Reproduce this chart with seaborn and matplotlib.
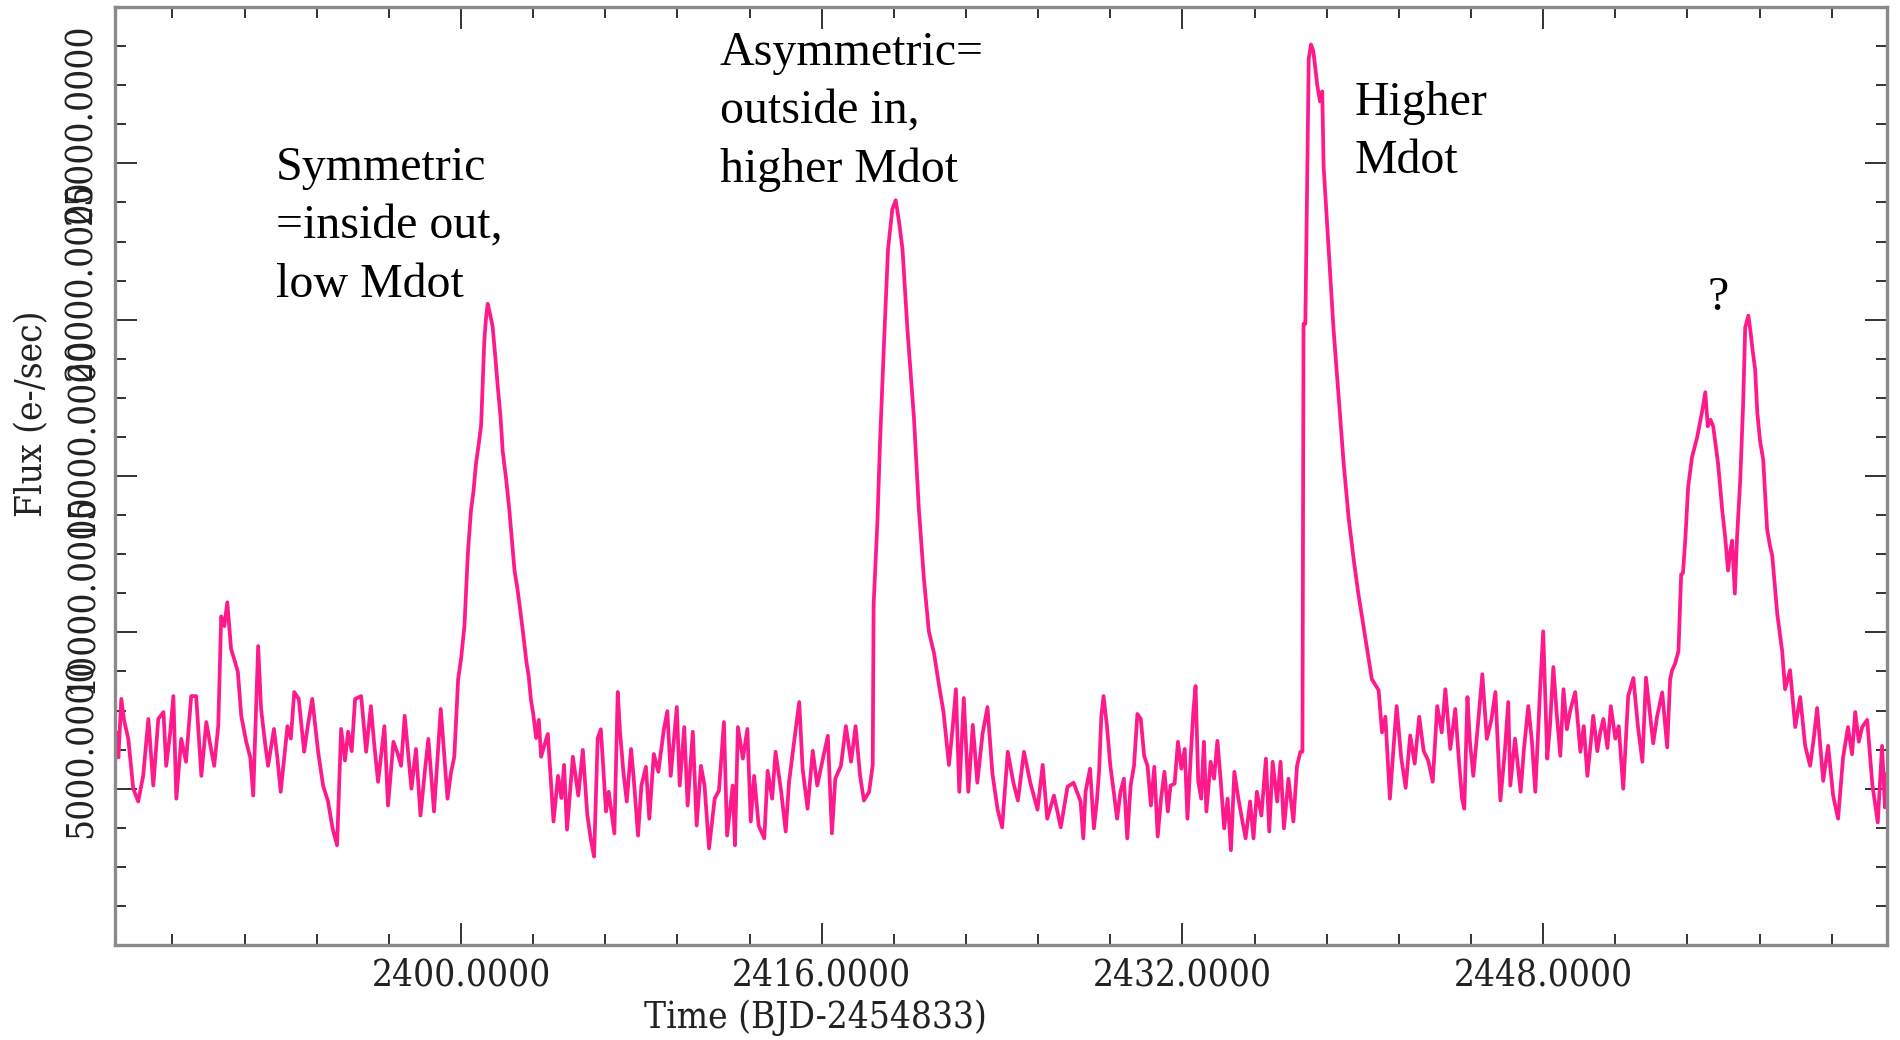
import matplotlib
matplotlib.use("Agg")
import matplotlib.pyplot as plt
import matplotlib.transforms as mtransforms
from matplotlib.ticker import MultipleLocator, FixedLocator, FormatStrFormatter
from matplotlib.font_manager import FontProperties
import pandas as pd
import seaborn as sns

# ---------------- data: (time BJD-2454833, flux e-/sec) ----------------
quiescence_1 = [
    (2384.72, 6800), (2384.80, 6000), (2384.93, 7870), (2385.05, 7200), (2385.24, 6590),
    (2385.46, 5000), (2385.68, 4590), (2385.90, 5410), (2386.13, 7230), (2386.35, 5100),
    (2386.57, 7230), (2386.80, 7450), (2386.92, 5730), (2387.10, 6800), (2387.24, 7960),
    (2387.37, 4680), (2387.59, 6590), (2387.80, 5860), (2388.03, 7960), (2388.25, 7960),
    (2388.48, 5410), (2388.70, 7130), (2388.90, 6300), (2389.05, 5730), (2389.23, 7000),
    (2389.36, 10510), (2389.50, 10200), (2389.63, 10960), (2389.80, 9460), (2389.94, 9140),
    (2390.10, 8730), (2390.25, 7330), (2390.47, 6500), (2390.65, 6000), (2390.78, 4780),
    (2391.00, 9560), (2391.13, 7550), (2391.30, 6500), (2391.44, 5730), (2391.70, 6910),
    (2391.85, 6000), (2392.00, 4900), (2392.30, 7000), (2392.45, 6600), (2392.60, 8090),
    (2392.80, 7870), (2393.04, 6180), (2393.20, 7000), (2393.40, 7870), (2393.66, 6180),
    (2393.88, 5100), (2394.10, 4590), (2394.30, 3730), (2394.50, 3190), (2394.68, 6910),
    (2394.85, 5900), (2394.99, 6820), (2395.15, 6200), (2395.30, 7870), (2395.57, 7960),
    (2395.79, 6180), (2396.00, 7640), (2396.15, 6400), (2396.32, 5220), (2396.60, 7000),
    (2396.76, 4460), (2397.00, 6500), (2397.20, 6100), (2397.34, 5730), (2397.50, 7330),
    (2397.80, 5000), (2398.00, 6270), (2398.20, 4140), (2398.40, 5600), (2398.55, 6590),
    (2398.80, 4270), (2399.10, 7550), (2399.25, 6100), (2399.40, 4680), (2399.55, 5500),
    (2399.70, 6020),
]

outburst_symmetric = [
    (2399.87, 8500), (2400.00, 9150), (2400.15, 10200), (2400.30, 12500), (2400.44, 13900),
    (2400.55, 14500), (2400.66, 15380), (2400.78, 16000), (2400.89, 16630), (2401.03, 19300),
    (2401.10, 20000), (2401.18, 20510), (2401.28, 20200), (2401.40, 19780), (2401.52, 18800),
    (2401.63, 17840), (2401.75, 16900), (2401.85, 15770), (2402.00, 14900), (2402.14, 13920),
    (2402.25, 13000), (2402.37, 11980), (2402.50, 11400), (2402.66, 10510), (2402.78, 9800),
    (2402.90, 9050), (2403.00, 8600), (2403.10, 7840), (2403.20, 7400), (2403.33, 6620),
    (2403.45, 7200), (2403.55, 6020), (2403.70, 6400), (2403.85, 6750), (2404.10, 3950),
    (2404.30, 5410), (2404.45, 4700), (2404.57, 5760), (2404.70, 3690), (2404.96, 6020),
    (2405.20, 4780), (2405.40, 6240), (2405.60, 4170), (2405.77, 3310), (2405.90, 2830),
    (2406.06, 6620), (2406.20, 6900), (2406.43, 4270), (2406.55, 4900), (2406.80, 3570),
    (2406.95, 8090), (2407.05, 6820), (2407.20, 5540), (2407.35, 4590), (2407.54, 6270),
    (2407.65, 5410), (2407.85, 3500), (2408.00, 5100), (2408.20, 5700), (2408.35, 4040),
    (2408.55, 6110), (2408.75, 5540), (2409.00, 6910), (2409.15, 7480), (2409.30, 5410),
    (2409.57, 7610), (2409.70, 5100), (2409.90, 6970), (2410.05, 4460), (2410.28, 6820),
    (2410.45, 3820), (2410.64, 5730), (2410.80, 5100), (2411.00, 3090), (2411.25, 4680),
    (2411.44, 4940), (2411.66, 7130), (2411.80, 3500), (2412.05, 5100), (2412.15, 3190),
    (2412.28, 6970), (2412.50, 5960), (2412.70, 6910), (2412.85, 3950), (2413.00, 5410),
    (2413.20, 3820), (2413.45, 3410), (2413.60, 5570), (2413.80, 4680), (2413.95, 6180),
    (2414.20, 4900), (2414.40, 3630), (2414.55, 5220), (2414.75, 6370), (2415.00, 7770),
    (2415.15, 5640), (2415.37, 4360), (2415.60, 6210), (2415.80, 5100), (2416.05, 5960),
    (2416.27, 6690), (2416.45, 3570), (2416.60, 5320), (2416.85, 5730), (2417.07, 7000),
    (2417.30, 5860), (2417.50, 7000), (2417.70, 5410), (2417.87, 4620), (2418.10, 4900),
    (2418.26, 5760),
]

outburst_asymmetric = [
    (2418.30, 10890), (2418.47, 13570), (2418.58, 15990), (2418.77, 19430), (2418.94, 22260),
    (2419.13, 23540), (2419.28, 23820), (2419.43, 23120), (2419.58, 22260), (2419.80, 19680),
    (2420.09, 16850), (2420.30, 14010), (2420.53, 11720), (2420.75, 10030), (2420.98, 9330),
    (2421.20, 8310), (2421.40, 7450), (2421.64, 5760), (2421.80, 6900), (2421.95, 8180),
    (2422.10, 4900), (2422.30, 7900), (2422.50, 4900), (2422.70, 7040), (2422.90, 5190),
    (2423.13, 6750), (2423.35, 7610), (2423.57, 5480), (2423.80, 4330), (2424.00, 3760),
    (2424.25, 6180), (2424.50, 5190), (2424.70, 4620), (2424.97, 6180), (2425.25, 5190),
    (2425.57, 4330), (2425.80, 5760), (2426.00, 4040), (2426.30, 4780), (2426.60, 3760),
    (2426.90, 5060), (2427.17, 5190), (2427.48, 4590), (2427.60, 3410), (2427.70, 4900),
    (2427.90, 5640), (2428.07, 3730), (2428.20, 4590), (2428.30, 5540), (2428.40, 7330),
    (2428.50, 7960), (2428.65, 7000), (2428.80, 5730), (2428.95, 4900), (2429.10, 4040),
    (2429.25, 4900), (2429.40, 5320), (2429.55, 3410), (2429.70, 5100), (2429.85, 5730),
    (2430.00, 7390), (2430.15, 7230), (2430.30, 6050), (2430.45, 5730), (2430.60, 4460),
    (2430.75, 5700), (2430.90, 3470), (2431.05, 4680), (2431.20, 5540), (2431.35, 4270),
    (2431.47, 5100), (2431.65, 5160), (2431.80, 6500), (2431.95, 5640), (2432.10, 6270),
    (2432.22, 4040), (2432.36, 5960), (2432.48, 7450), (2432.58, 8280), (2432.70, 5220),
    (2432.83, 4680), (2432.95, 6500), (2433.06, 4270), (2433.25, 5860), (2433.40, 5320),
    (2433.55, 6530), (2433.70, 5220), (2433.85, 3730), (2434.00, 4680), (2434.15, 3030),
    (2434.30, 5540), (2434.48, 4680), (2434.66, 3950), (2434.80, 3410), (2435.00, 4590),
    (2435.15, 3410), (2435.30, 4900), (2435.50, 4140), (2435.70, 5960), (2435.85, 3630),
    (2436.00, 5860), (2436.20, 4590), (2436.35, 5860), (2436.50, 3730), (2436.70, 5320),
    (2436.92, 3950), (2437.08, 5730), (2437.23, 6180), (2437.32, 6180),
]

outburst_high_mdot = [
    (2437.37, 19870), (2437.45, 19870), (2437.60, 28350), (2437.70, 28800), (2437.80, 28600),
    (2437.90, 28000), (2437.98, 27490), (2438.10, 26980), (2438.20, 27300), (2438.26, 24900),
    (2438.48, 22300), (2438.70, 19700), (2438.93, 17500), (2439.15, 15400), (2439.37, 13660),
    (2439.60, 12300), (2439.80, 11240), (2440.10, 9870), (2440.40, 8500), (2440.70, 8150),
    (2440.85, 6800), (2441.00, 7300), (2441.20, 4680), (2441.35, 6200), (2441.50, 7640),
    (2441.70, 6000), (2441.90, 5030), (2442.10, 6700), (2442.30, 5800), (2442.50, 7300),
    (2442.70, 6200), (2442.90, 5900), (2443.10, 5220), (2443.30, 7640), (2443.50, 6800),
    (2443.66, 8180), (2443.88, 6270), (2444.10, 7550), (2444.25, 6000), (2444.40, 4680),
    (2444.50, 4360), (2444.64, 7930), (2444.75, 6500), (2444.90, 5410), (2445.10, 7000),
    (2445.30, 8660), (2445.50, 6590), (2445.70, 7200), (2445.88, 8090), (2446.10, 4620),
    (2446.30, 6200), (2446.45, 7770), (2446.54, 5100), (2446.75, 6600), (2447.00, 4900),
    (2447.15, 6300), (2447.34, 7640), (2447.50, 6500), (2447.65, 4900), (2447.87, 8280),
    (2448.00, 10030), (2448.18, 5960), (2448.30, 7000), (2448.45, 8890), (2448.60, 7400),
    (2448.76, 6050), (2448.90, 8180), (2449.05, 6900), (2449.20, 7500), (2449.42, 8090),
    (2449.65, 6180), (2449.80, 7000), (2449.96, 5410), (2450.10, 6400), (2450.22, 7330),
    (2450.40, 6200), (2450.53, 6800), (2450.67, 7230), (2450.85, 6300), (2451.00, 7640),
    (2451.20, 6600), (2451.35, 7000), (2451.55, 5000), (2451.77, 7960), (2452.00, 8540),
    (2452.20, 7000), (2452.40, 5860), (2452.56, 8550), (2452.88, 6450), (2453.05, 7300),
    (2453.28, 8080), (2453.50, 6320), (2453.63, 8500),
]

outburst_double = [
    (2453.72, 8790), (2453.85, 9000), (2454.00, 9400), (2454.12, 11850), (2454.20, 11900),
    (2454.30, 12930), (2454.43, 14650), (2454.60, 15600), (2454.83, 16240), (2455.05, 17070),
    (2455.19, 17680), (2455.30, 16590), (2455.42, 16800), (2455.54, 16590), (2455.76, 15380),
    (2455.94, 13920), (2456.07, 13060), (2456.20, 11980), (2456.30, 12600), (2456.38, 12930),
    (2456.50, 11240), (2456.60, 13060), (2456.74, 14870), (2456.87, 17330), (2456.96, 19750),
    (2457.10, 20130), (2457.20, 19600), (2457.27, 19140), (2457.40, 18410), (2457.50, 17000),
    (2457.62, 16120), (2457.76, 15510), (2457.93, 13310), (2458.05, 12800), (2458.16, 12450),
    (2458.38, 10600), (2458.60, 9400), (2458.73, 8180), (2458.95, 8790), (2459.18, 6970),
    (2459.40, 7930), (2459.62, 6370), (2459.84, 5730), (2460.00, 6600), (2460.15, 7580),
    (2460.42, 5250), (2460.64, 6370), (2460.86, 4780), (2461.08, 4040), (2461.30, 5990),
    (2461.52, 6970), (2461.70, 6100), (2461.84, 7450), (2462.00, 6500), (2462.15, 6970),
    (2462.37, 7200), (2462.60, 5130), (2462.84, 3920), (2463.03, 6370), (2463.16, 4400),
    (2463.25, 5500),
]

x_ticks = [2400.0, 2416.0, 2432.0, 2448.0]
y_ticks = [5000, 10000, 15000, 20000, 25000]
x_label = "Time (BJD-2454833)"
y_label = "Flux (e-/sec)"
annotations = ["Symmetric\n=inside out,\nlow Mdot",
               "Asymmetric=\noutside in,\nhigher Mdot",
               "Higher\nMdot",
               "?"]

# ---------------- build table ----------------
segments = [quiescence_1, outburst_symmetric, outburst_asymmetric,
            outburst_high_mdot, outburst_double]
rows = [p for seg in segments for p in seg]
df = pd.DataFrame(rows, columns=["time", "flux"])

# ---------------- style ----------------
sns.set_theme(style="white")
plt.rcParams["font.family"] = ["DejaVu Serif", "DejaVu Sans"]

W, H = 1900, 1040
fig = plt.figure(figsize=(W / 100, H / 100), dpi=100)
ax = fig.add_axes([115 / W, 1 - 945 / H, 1772 / W, 938 / H])

sns.lineplot(data=df, x="time", y="flux", ax=ax, color="#ff1a8c",
             linewidth=2.7, estimator=None, sort=False)

ax.set_xlim(2384.65, 2463.25)
ax.set_ylim(0, 30000)

tick_font = FontProperties(family="DejaVu Serif", stretch="condensed", size=26.5)

ax.xaxis.set_major_locator(FixedLocator(x_ticks))
ax.xaxis.set_minor_locator(MultipleLocator(3.2))
ax.xaxis.set_major_formatter(FormatStrFormatter("%.4f"))
ax.yaxis.set_major_locator(FixedLocator(y_ticks))
ax.yaxis.set_minor_locator(MultipleLocator(1250))
ax.yaxis.set_major_formatter(FormatStrFormatter("%.4f"))

for s in ax.spines.values():
    s.set_color("#8a8a8a")
    s.set_linewidth(2.4)

ax.tick_params(which="both", direction="in", top=True, right=True,
               bottom=True, left=True, color="#333333")
ax.tick_params(which="major", length=16, width=1.4)
ax.tick_params(which="minor", length=8, width=1.4)
ax.tick_params(axis="x", which="major", pad=9)
ax.tick_params(axis="y", which="major", pad=11, labelrotation=90)

for lab in ax.get_xticklabels():
    lab.set_fontproperties(tick_font)
    lab.set_color("#222222")

offset = mtransforms.ScaledTranslation(0, 40 / 100, fig.dpi_scale_trans)
for tick in ax.yaxis.get_major_ticks():
    tick.label1.set_fontproperties(tick_font)
    tick.label1.set_color("#222222")
    tick.label1.set_verticalalignment("center")
    tick.label1.set_transform(tick.label1.get_transform() + offset)

ax.set_xlabel(x_label, fontproperties=tick_font, color="#222222")
ax.set_ylabel(y_label, fontproperties=tick_font, color="#222222")
ax.xaxis.set_label_coords(815 / W, 1 - 1018 / H, transform=fig.transFigure)
ax.xaxis.label.set_verticalalignment("center")
ax.yaxis.set_label_coords(32 / W, 1 - 414 / H, transform=fig.transFigure)
ax.yaxis.label.set_rotation_mode("default")
ax.yaxis.label.set_verticalalignment("center")
ax.yaxis.label.set_horizontalalignment("center")

# the last line of each note sits on the given baseline
ann_font = dict(family=["Liberation Serif", "DejaVu Serif"], size=34.5,
                color="black", linespacing=1.42, va="baseline", ha="left")
ann_pos = [(276, 297), (720, 182), (1355, 173), (1707, 310)]
for txt, (px, py) in zip(annotations, ann_pos):
    fig.text(px / W, 1 - py / H, txt, **ann_font)

fig.savefig("out.png", dpi=100, facecolor="white")
